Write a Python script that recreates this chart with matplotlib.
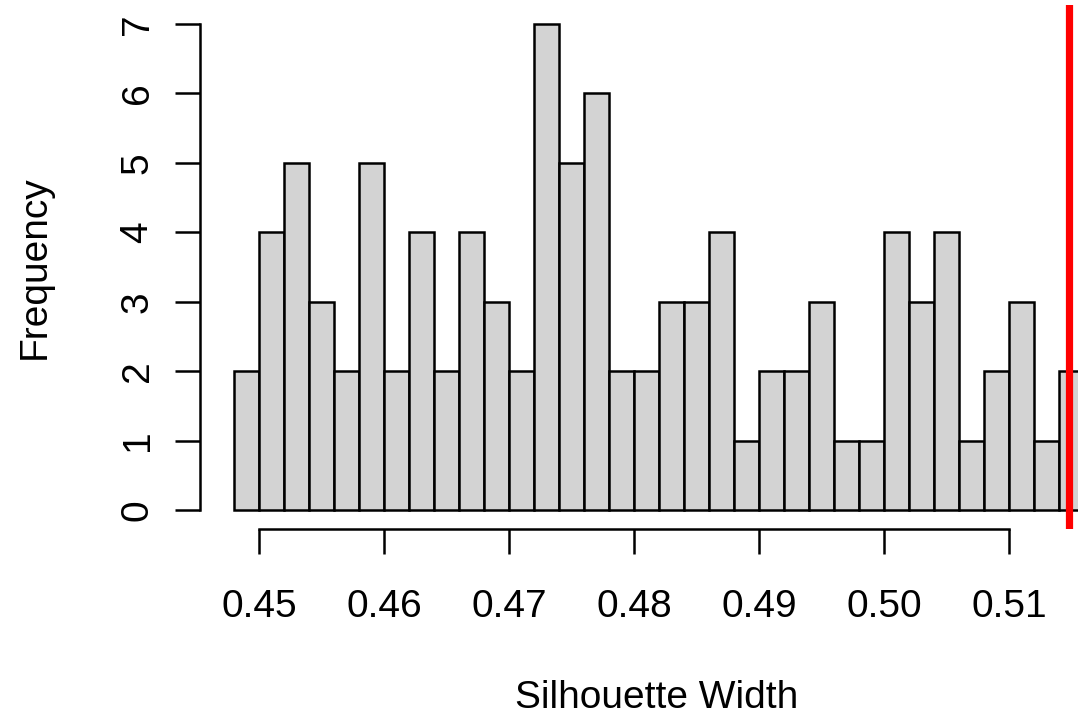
import matplotlib.pyplot as plt

plt.rcParams['font.family'] = ['Liberation Sans', 'DejaVu Sans']

# histogram of silhouette widths, bins of 0.002 starting at 0.448
bin_start = 0.448
bin_width = 0.002
counts = [2, 4, 5, 3, 2, 5, 2, 4, 2, 4, 3, 2, 7, 5, 6, 2, 2, 3, 3, 4,
          1, 2, 2, 3, 1, 1, 4, 3, 4, 1, 2, 3, 1, 2]
observed = 0.5148
x_ticks = [0.45, 0.46, 0.47, 0.48, 0.49, 0.50, 0.51]
y_ticks = [0, 1, 2, 3, 4, 5, 6, 7]

W, H = 1078, 719
fig = plt.figure(figsize=(W / 100, H / 100), dpi=100)
ax = fig.add_axes([200 / W, (H - 529.4) / H, 1 - 200 / W, (529.4 - 4.6) / H])

lefts = [bin_start + i * bin_width for i in range(len(counts))]
ax.bar(lefts, counts, width=bin_width, align='edge',
       color='#d3d3d3', edgecolor='black', linewidth=1.8)
ax.axvline(observed, color='#ff0000', linewidth=5.2)

ax.set_xlim(0.44528, 0.51552)
ax.set_ylim(-0.28, 7.28)

for s in ['top', 'right']:
    ax.spines[s].set_visible(False)
ax.spines['left'].set_bounds(0, 7)
ax.spines['bottom'].set_bounds(0.45, 0.51)
for s in ['left', 'bottom']:
    ax.spines[s].set_linewidth(1.8)

ax.set_xticks(x_ticks)
ax.set_xticklabels([f"{t:.2f}" for t in x_ticks])
ax.set_yticks(y_ticks)
ax.set_yticklabels([str(t) for t in y_ticks], rotation=90, va='center')
ax.tick_params(axis='both', direction='out', length=18, width=1.8,
               labelsize=28)
ax.tick_params(axis='x', pad=25)
ax.tick_params(axis='y', pad=14)

fig.text(657 / W, 1 - 698 / H, "Silhouette Width", fontsize=28,
         ha='center', va='center')
fig.text(35 / W, 1 - 267 / H, "Frequency", fontsize=28, rotation=90,
         ha='center', va='center')

fig.savefig("out.png", dpi=100)
